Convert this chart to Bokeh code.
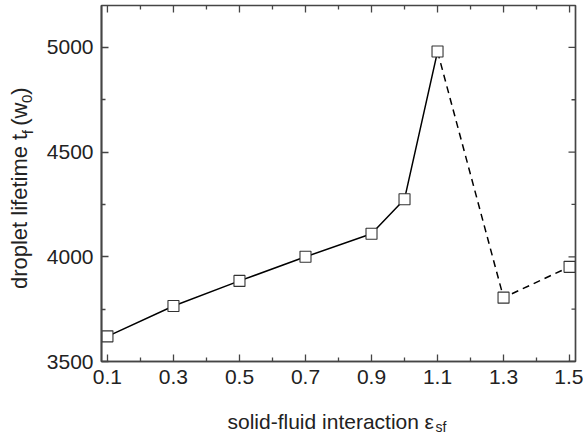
import math
from bokeh.plotting import figure
from bokeh.models import FixedTicker, Range1d
from bokeh.layouts import column, row
from bokeh.core.properties import value
from bokeh.embed import file_html
from bokeh.resources import INLINE

# data
eps = [0.1, 0.3, 0.5, 0.7, 0.9, 1.0, 1.1, 1.3, 1.5]
lifetime = [3620, 3765, 3885, 4000, 4110, 4275, 4980, 3805, 3952]
solid_n = 7          # first 7 points joined by a solid line, the rest dashed
x_ticks = [0.1, 0.3, 0.5, 0.7, 0.9, 1.1, 1.3, 1.5]
x_minor = [0.2, 0.4, 0.6, 0.8, 1.0, 1.2, 1.4]
y_ticks = [3500, 4000, 4500, 5000]
y_minor = [3750, 4250, 4750]
X_MIN, X_MAX = 0.082, 1.518
Y_MIN, Y_MAX = 3500, 5200

FONT = "Liberation Sans"
AX_COLOR = "#454545"
TXT = "#222222"

W, H = 583, 433
YLAB_W = 36          # width of the strip holding the y title
XLAB_H = 38          # height of the strip holding the x title
MAIN_W, MAIN_H = W - YLAB_W, H - XLAB_H

p = figure(width=MAIN_W, height=MAIN_H, x_range=Range1d(X_MIN, X_MAX),
           y_range=Range1d(Y_MIN, Y_MAX), output_backend="svg", toolbar_location=None,
           min_border_left=101 - YLAB_W, min_border_right=8, min_border_top=5,
           min_border_bottom=MAIN_H - 361)
p.outline_line_color = AX_COLOR
p.outline_line_width = 1.7
p.xgrid.visible = False
p.ygrid.visible = False
p.background_fill_color = "white"
p.border_fill_color = "white"

for ax, ticker in ((p.xaxis[0], FixedTicker(ticks=x_ticks, minor_ticks=x_minor)),
                   (p.yaxis[0], FixedTicker(ticks=y_ticks, minor_ticks=y_minor))):
    ax.ticker = ticker
    ax.axis_line_color = AX_COLOR
    ax.axis_line_width = 1.7
    ax.major_tick_line_color = AX_COLOR
    ax.minor_tick_line_color = AX_COLOR
    ax.major_tick_line_width = 1.3
    ax.minor_tick_line_width = 1.3
    ax.major_tick_in = 7
    ax.major_tick_out = 0
    ax.minor_tick_in = 4
    ax.minor_tick_out = 0
    ax.major_label_text_font = FONT
    ax.major_label_text_font_size = "21px"
    ax.major_label_text_color = TXT
    ax.major_label_standoff = 8

# mirrored ticks on the top and right edges (half of each dash is clipped by the frame)
p.scatter(x_ticks, [Y_MAX] * len(x_ticks), marker="dash", angle=math.pi / 2, size=14,
          line_color=AX_COLOR, line_width=1.3)
p.scatter(x_minor, [Y_MAX] * len(x_minor), marker="dash", angle=math.pi / 2, size=8,
          line_color=AX_COLOR, line_width=1.3)
p.scatter([X_MAX] * len(y_ticks), y_ticks, marker="dash", size=14,
          line_color=AX_COLOR, line_width=1.3)
p.scatter([X_MAX] * len(y_minor), y_minor, marker="dash", size=8,
          line_color=AX_COLOR, line_width=1.3)

# data lines and markers
p.line(eps[:solid_n], lifetime[:solid_n], line_color="black", line_width=1.5)
p.line(eps[solid_n - 1:], lifetime[solid_n - 1:], line_color="black", line_width=1.5,
       line_dash="7 5")
p.scatter(eps, lifetime, marker="square", size=11, fill_color="white",
          line_color="#333333", line_width=1.1)


def strip(w, h):
    f = figure(width=w, height=h, x_range=Range1d(0, w), y_range=Range1d(h, 0),
               output_backend="svg", toolbar_location=None,
               x_axis_type=None, y_axis_type=None, min_border=0)
    f.outline_line_color = None
    f.xgrid.visible = False
    f.ygrid.visible = False
    f.background_fill_color = "white"
    f.border_fill_color = "white"
    return f


def put(f, text, x, y, size, angle=0.0, align="left", baseline="alphabetic"):
    f.text(x=[x], y=[y], text=[text], text_font=value(FONT),
           text_font_size=value(f"{size}px"), text_color=TXT, angle=angle,
           text_align=align, text_baseline=baseline)


UP = math.pi / 2
# y title: droplet lifetime t_f (w_0), read bottom to top; each piece placed by its centre
ylab = strip(YLAB_W, MAIN_H)
for txt, cx, cy, size in (("droplet lifetime t", 19, 228.5, 22),
                          ("f", 26.5, 140.5, 15),
                          ("(w", 19, 120.5, 22),
                          ("0", 26.5, 103.5, 15),
                          (")", 19, 95, 22)):
    put(ylab, txt, cx, cy, size, UP, align="center", baseline="middle")

# x title: solid-fluid interaction eps_sf
xlab = strip(W, XLAB_H)
put(xlab, "solid-fluid interaction", 227, 421 - MAIN_H, 21)
put(xlab, "\u03b5", 424, 421 - MAIN_H, 21)
put(xlab, "sf", 435, 426 - MAIN_H, 14)

layout = column(row(ylab, p, spacing=0), xlab, spacing=0)
open("out.html", "w").write(file_html(layout, INLINE))
